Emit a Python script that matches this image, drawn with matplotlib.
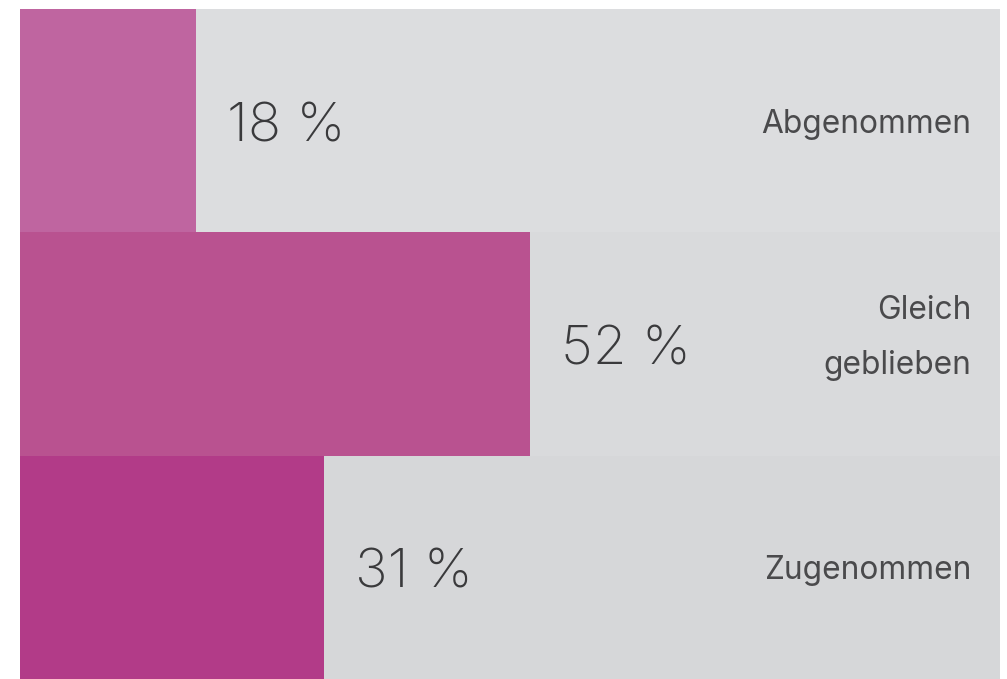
"""Horizontale Anteilsbalken: Abgenommen / Gleich geblieben / Zugenommen."""
import matplotlib
matplotlib.use("Agg")
import matplotlib.pyplot as plt

categories = ["Abgenommen", "Gleich\ngeblieben", "Zugenommen"]
shares = [18, 52, 31]
bar_colors = ["#BF65A0", "#B95290", "#B23B88"]
track_colors = ["#DCDDDF", "#D9DADC", "#D6D7D9"]

W, H = 1007, 679
PT = 0.72  # px -> pt bei dpi 100
fig = plt.figure(figsize=(W / 100, H / 100), dpi=100)
ax = fig.add_axes([20 / W, 0, 980 / W, (H - 9) / H])

ypos = list(range(len(categories)))
ax.barh(ypos, [100] * len(categories), height=1.0, color=track_colors, linewidth=0)
ax.barh(ypos, shares, height=1.0, color=bar_colors, linewidth=0)

for y, v, lab in zip(ypos, shares, categories):
    # Ziffern mittig in der Zeile (Ziffernhöhe ~41 px)
    ax.annotate(f"{v} %", (v, y), xytext=(31 * PT, -20.5 * PT),
                textcoords="offset points", ha="left", va="baseline",
                fontsize=39.5, family="Inter", fontweight="light",
                color="#3A3A3C")
    lines = lab.split("\n")
    first = 12 - (len(lines) - 1) * 37.5
    for i, line in enumerate(lines):
        ax.annotate(line, (100, y), xytext=(-29 * PT, -(first + i * 55) * PT),
                    textcoords="offset points", ha="right", va="baseline",
                    fontsize=22.8, family="Inter", color="#4A4A4C")

ax.set_xlim(0, 100)
ax.set_ylim(len(categories) - 0.5, -0.5)
ax.axis("off")

fig.savefig("out.png", dpi=100)
